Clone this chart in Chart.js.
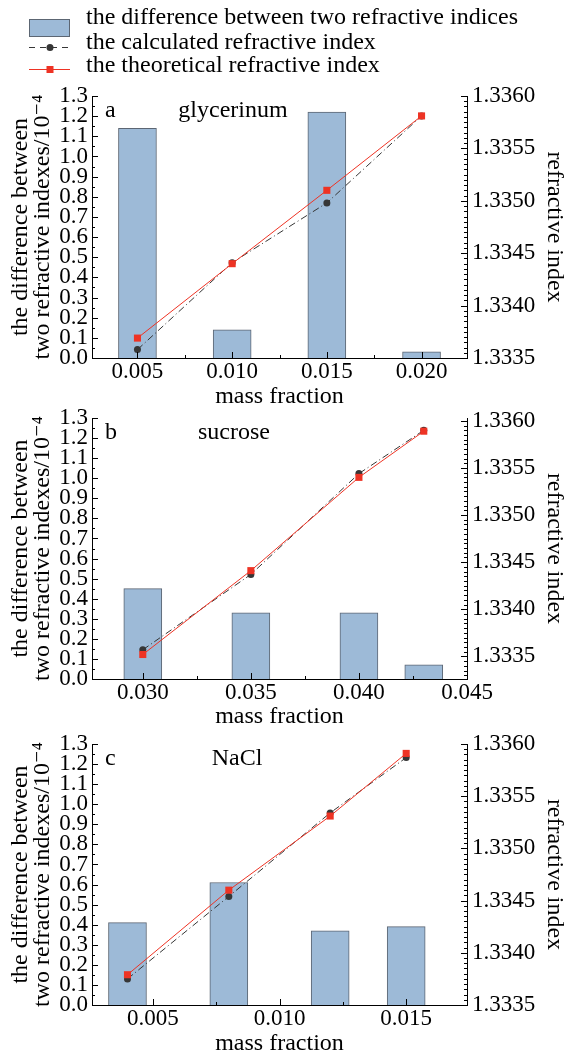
<!DOCTYPE html>
<html>
<head>
<meta charset="utf-8">
<script src="https://cdn.jsdelivr.net/npm/chart.js@4.4.0/dist/chart.umd.min.js"></script>
<style>
  html, body { margin: 0; padding: 0; background: #fff; }
  #wrap { position: relative; width: 565px; height: 1055px; overflow: hidden; }
  canvas { position: absolute; left: 0; }
</style>
</head>
<body>
<div id="wrap">
  <canvas id="chart-a" width="565" height="410" style="top:0px"></canvas>
  <canvas id="chart-b" width="565" height="345" style="top:385px"></canvas>
  <canvas id="chart-c" width="565" height="345" style="top:710px"></canvas>
</div>
<script>
// panel a - glycerinum
var massA = [0.005, 0.010, 0.015, 0.020];
var diffA = [1.14, 0.14, 1.22, 0.03];
var calcA = [1.33358, 1.33441, 1.33498, 1.33581];
var theoA = [1.33369, 1.33440, 1.33510, 1.33581];

// panel b - sucrose
var massB = [0.030, 0.035, 0.040, 0.043];
var diffB = [0.45, 0.33, 0.33, 0.07];
var calcB = [1.33357, 1.33437, 1.33544, 1.33590];
var theoB = [1.33352, 1.33441, 1.33540, 1.33589];

// panel c - NaCl
var massC = [0.004, 0.008, 0.012, 0.015];
var diffC = [0.41, 0.61, 0.37, 0.39];
var calcC = [1.33375, 1.33454, 1.33534, 1.33587];
var theoC = [1.33379, 1.33460, 1.33531, 1.33591];

var diffLabel = 'the difference between two refractive indices';
var calcLabel = 'the calculated refractive index';
var theoLabel = 'the theoretical refractive index';

var BAR_FILL = '#9dbad7';
var BAR_EDGE = '#5c6673';
var CALC_COL = '#363636';
var THEO_COL = '#ee3324';
var CALC_DASH = [7, 3, 1, 3];
var FONT = '"Liberation Serif", "DejaVu Serif", "Times New Roman", serif';

// major / minor tick steps for every axis
var TICK_STEPS = [
  { id: 'x', major: 0.005, minor: 0.0025 },
  { id: 'y', major: 0.1, minor: 0.05 },
  { id: 'y2', major: 0.0005, minor: 0.00005 }
];

Chart.defaults.font.family = FONT;
Chart.defaults.font.size = 24;
Chart.defaults.color = '#000';

function pts(xs, ys) {
  return xs.map(function (x, i) { return { x: x, y: ys[i] }; });
}

// small inward tick marks, major and minor
var tickMarks = {
  id: 'tickMarks',
  afterDraw: function (chart) {
    var ctx = chart.ctx;
    ctx.save();
    ctx.strokeStyle = '#000';
    ctx.lineWidth = 1;
    TICK_STEPS.forEach(function (a) {
      var s = chart.scales[a.id];
      if (!s) return;
      var n0 = Math.ceil(s.min / a.minor - 1e-6);
      var n1 = Math.floor(s.max / a.minor + 1e-6);
      for (var n = n0; n <= n1; n++) {
        var v = n * a.minor;
        var r = v / a.major;
        var len = Math.abs(r - Math.round(r)) < 1e-6 ? 6 : 3;
        var p = Math.round(s.getPixelForValue(v)) + 0.5;
        ctx.beginPath();
        if (a.id === 'x') {
          ctx.moveTo(p, s.top); ctx.lineTo(p, s.top - len);
        } else if (a.id === 'y') {
          ctx.moveTo(s.right, p); ctx.lineTo(s.right + len, p);
        } else {
          ctx.moveTo(s.left, p); ctx.lineTo(s.left - len, p);
        }
        ctx.stroke();
      }
    });
    ctx.restore();
  }
};

// panel letter and substance name
var panelText = {
  id: 'panelText',
  afterDraw: function (chart, args, opts) {
    var ctx = chart.ctx, area = chart.chartArea;
    ctx.save();
    ctx.font = '24px ' + FONT;
    ctx.fillStyle = '#000';
    ctx.textBaseline = 'alphabetic';
    ctx.textAlign = 'left';
    ctx.fillText(opts.letter, area.left + 13, area.top + 21);
    ctx.textAlign = 'center';
    ctx.fillText(opts.name, opts.nameX, area.top + 21);
    ctx.restore();
  }
};

// legend at the top of panel a
var legendRows = {
  id: 'legendRows',
  afterDraw: function (chart, args, opts) {
    if (!opts.show) return;
    var ctx = chart.ctx;
    var ds = chart.data.datasets;
    ctx.save();
    ctx.fillStyle = ds[0].backgroundColor;
    ctx.fillRect(29, 19, 40, 17);
    ctx.strokeStyle = ds[0].borderColor;
    ctx.lineWidth = 1;
    ctx.strokeRect(29.5, 19.5, 40, 17);

    ctx.strokeStyle = ds[1].borderColor;
    ctx.setLineDash([6, 5]);
    ctx.beginPath(); ctx.moveTo(29, 47.5); ctx.lineTo(70, 47.5); ctx.stroke();
    ctx.setLineDash([]);
    ctx.fillStyle = ds[1].pointBackgroundColor;
    ctx.beginPath(); ctx.arc(50, 47.5, ds[1].pointRadius, 0, Math.PI * 2); ctx.fill();

    ctx.strokeStyle = ds[2].borderColor;
    ctx.beginPath(); ctx.moveTo(29, 69.5); ctx.lineTo(70, 69.5); ctx.stroke();
    ctx.fillStyle = ds[2].pointBackgroundColor;
    ctx.fillRect(46.5, 66, 7, 7);

    ctx.font = '24px ' + FONT;
    ctx.fillStyle = '#000';
    ctx.textAlign = 'left';
    ctx.textBaseline = 'middle';
    ctx.fillText(ds[0].label, 86, 18);
    ctx.fillText(ds[1].label, 86, 43);
    ctx.fillText(ds[2].label, 86, 66);
    ctx.restore();
  }
};

function makeChart(id, p) {
  return new Chart(document.getElementById(id), {
    type: 'bar',
    data: {
      datasets: [
        {
          type: 'bar', label: diffLabel, data: pts(p.mass, p.diff), yAxisID: 'y',
          backgroundColor: BAR_FILL, borderColor: BAR_EDGE, borderWidth: 1,
          barThickness: 38, order: 3
        },
        {
          type: 'line', label: calcLabel, data: pts(p.mass, p.calc), yAxisID: 'y2',
          borderColor: CALC_COL, borderWidth: 1, borderDash: CALC_DASH,
          pointStyle: 'circle', pointRadius: 3.5, pointBackgroundColor: CALC_COL,
          pointBorderWidth: 0, tension: 0, order: 2
        },
        {
          type: 'line', label: theoLabel, data: pts(p.mass, p.theo), yAxisID: 'y2',
          borderColor: THEO_COL, borderWidth: 1,
          pointStyle: 'rect', pointRadius: 5, pointBackgroundColor: THEO_COL,
          pointBorderWidth: 0, tension: 0, order: 1
        }
      ]
    },
    options: {
      responsive: false,
      animation: false,
      devicePixelRatio: 1,
      layout: { padding: { top: p.padTop, left: 0, right: 0, bottom: 0 } },
      plugins: {
        legend: { display: false },
        tooltip: { enabled: false },
        panelText: { letter: p.letter, name: p.name, nameX: p.nameX },
        legendRows: { show: !!p.legend }
      },
      scales: {
        x: {
          type: 'linear', min: p.xMin, max: p.xMax, offset: false,
          grid: { display: false, drawTicks: false },
          border: { display: true, color: '#000', width: 1 },
          ticks: {
            stepSize: 0.005, includeBounds: false, autoSkip: false, maxRotation: 0,
            padding: 2, color: '#000', font: { size: 23, lineHeight: 1 },
            callback: function (v) { return v.toFixed(3); }
          },
          title: {
            display: true, text: 'mass fraction', color: '#000',
            font: { size: 24, lineHeight: 1.05 }, padding: { top: 0, bottom: p.titlePad }
          },
          afterFit: function (s) { s.height = p.xAxisH; }
        },
        y: {
          position: 'left', min: 0, max: 1.3,
          grid: { display: false, drawTicks: false },
          border: { display: true, color: '#000', width: 1 },
          ticks: {
            stepSize: 0.1, autoSkip: false, padding: 4, color: '#000',
            font: { size: 23, lineHeight: 1 },
            callback: function (v) { return v.toFixed(1); }
          },
          title: {
            display: true, text: ['the difference between', 'two refractive indexes/10\u207B\u2074'],
            color: '#000', font: { size: 24, lineHeight: 0.95 }, padding: { top: 9, bottom: 0 }
          },
          afterFit: function (s) { s.width = 92; }
        },
        y2: {
          position: 'right', min: p.rMin, max: p.rMax,
          grid: { display: false, drawTicks: false },
          border: { display: true, color: '#000', width: 1 },
          ticks: {
            stepSize: 0.0005, includeBounds: false, autoSkip: false, padding: 5, color: '#000',
            font: { size: 23, lineHeight: 1 },
            callback: function (v) { return v.toFixed(4); }
          },
          title: {
            display: true, text: 'refractive index', color: '#000',
            font: { size: 24, lineHeight: 1 }, padding: { top: -1, bottom: 0 }
          },
          afterFit: function (s) { s.width = 98; }
        }
      }
    },
    plugins: [tickMarks, panelText, legendRows]
  });
}

makeChart('chart-a', {
  mass: massA, diff: diffA, calc: calcA, theo: theoA,
  xMin: 0.0026, xMax: 0.0224, rMin: 1.3335, rMax: 1.3360,
  padTop: 96, xAxisH: 52, titlePad: 0.5,
  letter: 'a', name: 'glycerinum', nameX: 233, legend: true
});

makeChart('chart-b', {
  mass: massB, diff: diffB, calc: calcB, theo: theoB,
  xMin: 0.02765, xMax: 0.045, rMin: 1.33326, rMax: 1.33603,
  padTop: 33, xAxisH: 51, titlePad: 0.5,
  letter: 'b', name: 'sucrose', nameX: 234
});

makeChart('chart-c', {
  mass: massC, diff: diffC, calc: calcC, theo: theoC,
  xMin: 0.0026, xMax: 0.0174, rMin: 1.3335, rMax: 1.3360,
  padTop: 34, xAxisH: 50, titlePad: -1,
  letter: 'c', name: 'NaCl', nameX: 237
});
</script>
</body>
</html>
